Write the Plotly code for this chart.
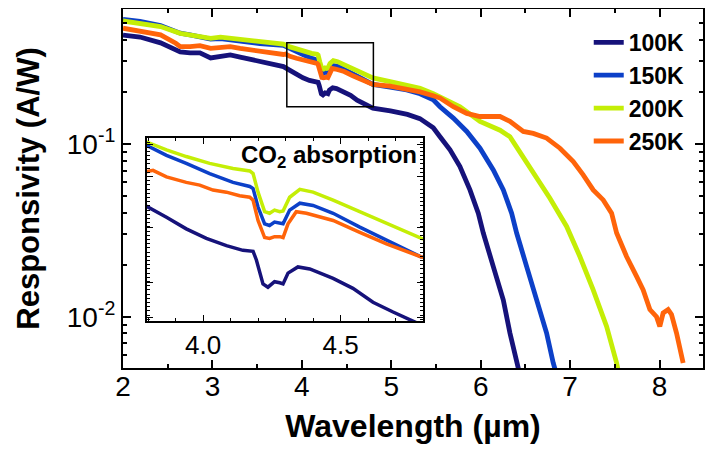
import numpy as np
import plotly.graph_objects as go

# ---------------- data ----------------
wl_100K = [2.00, 2.19, 2.42, 2.64, 2.75, 2.86, 2.98, 3.09, 3.20, 3.31, 3.46, 3.65,
           3.794, 3.867, 3.939, 4.012, 4.085, 4.145, 4.182, 4.194, 4.218, 4.236, 4.260, 4.279, 4.291,
           4.309, 4.345, 4.388, 4.473, 4.545, 4.618, 4.691, 4.794,
           4.99, 5.18, 5.32, 5.47, 5.545, 5.657, 5.768, 5.880, 5.973, 6.029, 6.141, 6.253, 6.327, 6.402, 6.43]
r_100K = [0.426, 0.415, 0.384, 0.340, 0.336, 0.336, 0.314, 0.323, 0.327, 0.318, 0.306, 0.288,
          0.280, 0.266, 0.252, 0.241, 0.233, 0.228, 0.227, 0.218, 0.195, 0.192, 0.197, 0.196, 0.195,
          0.205, 0.211, 0.209, 0.200, 0.191, 0.179, 0.171, 0.161,
          0.155, 0.148, 0.140, 0.124, 0.110, 0.0923, 0.0739, 0.0542, 0.0397, 0.0305, 0.0195, 0.0125, 0.00805, 0.0054, 0.0048]

wl_150K = [2.00, 2.19, 2.42, 2.64, 2.75, 2.86, 2.98, 3.09, 3.20, 3.31, 3.53,
           3.794, 3.867, 3.939, 4.024, 4.109, 4.170, 4.182, 4.200, 4.224, 4.242, 4.260, 4.279, 4.291,
           4.315, 4.352, 4.400, 4.473, 4.570, 4.667, 4.794,
           4.987, 5.173, 5.322, 5.47, 5.545, 5.694, 5.844, 5.992, 6.141, 6.253, 6.346, 6.402, 6.514,
           6.626, 6.737, 6.811, 6.84]
r_150K = [0.525, 0.511, 0.484, 0.437, 0.427, 0.413, 0.404, 0.406, 0.399, 0.391, 0.380,
          0.372, 0.355, 0.342, 0.326, 0.313, 0.307, 0.304, 0.279, 0.258, 0.256, 0.260, 0.259, 0.258,
          0.275, 0.284, 0.281, 0.271, 0.254, 0.239, 0.221,
          0.213, 0.205, 0.195, 0.180, 0.164, 0.141, 0.118, 0.0944, 0.0707, 0.0542, 0.0397, 0.0305, 0.0195,
          0.0125, 0.00805, 0.0054, 0.0048]

wl_200K = [2.00, 2.19, 2.42, 2.64, 2.75, 2.86, 2.98, 3.09, 3.20, 3.31, 3.53,
           3.794, 3.867, 3.939, 4.024, 4.109, 4.170, 4.182, 4.200, 4.224, 4.242, 4.260, 4.279, 4.291,
           4.315, 4.352, 4.400, 4.473, 4.570, 4.667, 4.794,
           4.987, 5.173, 5.322, 5.47, 5.62, 5.769, 5.992, 6.216, 6.327, 6.439, 6.551, 6.662, 6.774,
           6.961, 7.109, 7.258, 7.408, 7.520, 7.54]
r_200K = [0.514, 0.499, 0.477, 0.436, 0.427, 0.417, 0.408, 0.414, 0.408, 0.399, 0.388,
          0.378, 0.364, 0.353, 0.342, 0.334, 0.330, 0.326, 0.299, 0.273, 0.271, 0.275, 0.273, 0.274,
          0.292, 0.303, 0.299, 0.288, 0.273, 0.258, 0.241,
          0.229, 0.219, 0.210, 0.195, 0.180, 0.164, 0.135, 0.120, 0.110, 0.0902, 0.0739, 0.0605, 0.0485,
          0.0333, 0.0223, 0.0143, 0.00879, 0.0054, 0.0048]

wl_250K = [2.00, 2.19, 2.42, 2.59, 2.64, 2.75, 2.86, 2.98, 3.09, 3.20, 3.31, 3.53,
           3.794, 3.818, 3.867, 3.939, 3.988, 4.036, 4.085, 4.133, 4.170, 4.182, 4.200, 4.224, 4.242,
           4.260, 4.279, 4.291, 4.309, 4.339, 4.376, 4.473, 4.570, 4.667, 4.794,
           4.987, 5.173, 5.322, 5.47, 5.545, 5.694, 5.844, 5.992, 6.104, 6.216, 6.327, 6.476, 6.588,
           6.737, 6.886, 7.035, 7.146, 7.258, 7.370, 7.464, 7.520, 7.631, 7.743, 7.817, 7.892, 7.966,
           8.003, 8.040, 8.096, 8.134, 8.190, 8.246, 8.264]
r_250K = [0.467, 0.450, 0.427, 0.382, 0.365, 0.365, 0.370, 0.357, 0.362, 0.365, 0.357, 0.342,
          0.329, 0.331, 0.321, 0.313, 0.309, 0.302, 0.299, 0.294, 0.292, 0.288, 0.262, 0.242, 0.241,
          0.243, 0.243, 0.242, 0.258, 0.273, 0.271, 0.262, 0.248, 0.235, 0.221,
          0.216, 0.208, 0.200, 0.190, 0.184, 0.164, 0.150, 0.144, 0.143, 0.144, 0.135, 0.118, 0.115,
          0.108, 0.0944, 0.0790, 0.0662, 0.0542, 0.0474, 0.0397, 0.0305, 0.0223, 0.0171, 0.0143, 0.0110, 0.0100,
          0.00879, 0.0105, 0.0110, 0.0103, 0.00805, 0.00617, 0.0054]

series_names = ["100K", "150K", "200K", "250K"]
series_wl = [wl_100K, wl_150K, wl_200K, wl_250K]
series_r = [r_100K, r_150K, r_200K, r_250K]
colors = ["#16127a", "#0c40c8", "#c4ee06", "#ff640a"]

main_x_ticks = [2, 3, 4, 5, 6, 7, 8]
main_y_ticks = [0.01, 0.1]
main_y_ticktext = ["10<sup>-2</sup>", "10<sup>-1</sup>"]
inset_x_ticks = [4.0, 4.5]
inset_x_ticktext = ["4.0", "4.5"]

# ranges
x_main_range = [2, 8.486]
y_main_range = [np.log10(0.00505), np.log10(0.603)]
x_inset_range = [3.795, 4.8]
y_inset_lo, y_inset_hi = 0.164, 0.384
y_inset_range = [np.log10(y_inset_lo), np.log10(y_inset_hi)]

FONT = "Liberation Sans, Arial, Helvetica, sans-serif"

fig = go.Figure()
for name, wl, r, c in zip(series_names, series_wl, series_r, colors):
    fig.add_trace(go.Scatter(x=wl, y=r, mode="lines", name=name,
                             line=dict(color=c, width=4.8), xaxis="x", yaxis="y"))
for name, wl, r, c in zip(series_names, series_wl, series_r, colors):
    fig.add_trace(go.Scatter(x=wl, y=r, mode="lines", name=name, showlegend=False,
                             line=dict(color=c, width=3.5), xaxis="x2", yaxis="y2"))

minor_log = [m * 10.0 ** e for e in (-3, -2, -1) for m in range(2, 10)]
inset_minor = list(10 ** np.arange(-0.79, -0.41, 0.0085))

axis_common = dict(showline=True, linecolor="black", linewidth=2, mirror="allticks",
                   ticks="inside", tickcolor="black", showgrid=False, zeroline=False,
                   automargin=False)

fig.update_layout(
    width=697, height=436,
    margin=dict(l=115, r=1.5, t=1, b=76),
    paper_bgcolor="white", plot_bgcolor="white",
    font=dict(family=FONT, color="black"),
    xaxis=dict(domain=[0, 1], range=x_main_range, tickvals=main_x_ticks,
               ticklen=8, tickwidth=1.5, ticklabelstandoff=-8,
               minor=dict(ticks="inside", dtick=0.5, tick0=2, ticklen=4, tickwidth=1.5, tickcolor="black"),
               tickfont=dict(size=28),
               title=dict(text="<b>Wavelength (µm)</b>", font=dict(size=32), standoff=32),
               **axis_common),
    yaxis=dict(domain=[0, 1], type="log", range=y_main_range, tickvals=main_y_ticks,
               ticktext=main_y_ticktext, ticklen=8, tickwidth=1.5,
               minor=dict(ticks="inside", tickvals=minor_log, ticklen=4, tickwidth=1.5, tickcolor="black"),
               tickfont=dict(size=28),
               title=dict(text="<b>Responsivity (A/W)</b>", font=dict(size=31), standoff=18),
               **axis_common),
    xaxis2=dict(domain=[0.0408, 0.5173], anchor="y2", range=x_inset_range,
                tickvals=inset_x_ticks, ticktext=inset_x_ticktext, ticklen=6, tickwidth=1.2,
                minor=dict(ticks="inside", dtick=0.1, tick0=4.0, ticklen=3, tickwidth=1.2, tickcolor="black"),
                tickfont=dict(size=26), **axis_common),
    yaxis2=dict(domain=[0.1309, 0.6393], anchor="x2", type="log", range=y_inset_range,
                tickvals=[0.167, 0.196, 0.254, 0.321, 0.374], showticklabels=False,
                ticklen=6, tickwidth=1.2,
                minor=dict(ticks="inside", tickvals=inset_minor, ticklen=3, tickwidth=1, tickcolor="black"),
                **axis_common),
    legend=dict(x=0.803, y=0.967, xanchor="left", yanchor="top",
                font=dict(size=23, weight="bold"), bgcolor="rgba(0,0,0,0)",
                tracegroupgap=0),
    showlegend=True,
)

# white background for the inset so the main curves do not show through
fig.add_shape(type="rect", xref="x2 domain", yref="y2 domain", x0=0, x1=1, y0=0, y1=1,
              fillcolor="white", line=dict(width=0), layer="below")
# box marking the zoomed region in the main plot
fig.add_shape(type="rect", xref="x", yref="y", x0=3.832, x1=4.80, y0=y_inset_lo, y1=y_inset_hi,
              line=dict(color="black", width=1.5), fillcolor="rgba(0,0,0,0)")

fig.add_annotation(text="<b>CO<sub>2</sub> absorption</b>", xref="x2 domain", yref="y2 domain",
                   x=0.985, y=0.995, xanchor="right", yanchor="top", showarrow=False,
                   font=dict(size=24, color="black"))

fig.write_html("out.html")
